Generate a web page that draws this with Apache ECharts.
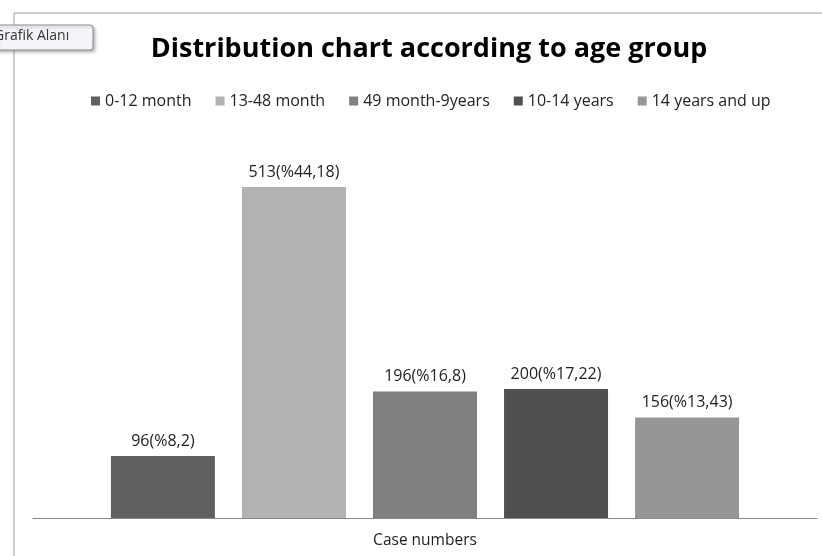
<!DOCTYPE html>
<html>
<head>
<meta charset="utf-8">
<script src="https://cdn.jsdelivr.net/npm/echarts@6/dist/echarts.min.js"></script>
<style>
html,body{margin:0;padding:0;background:#fff;}
#c{width:822px;height:556px;}
</style>
</head>
<body>
<div id="c"></div>
<script>
var categories = ['Case numbers'];
var seriesNames = ['0-12 month', '13-48 month', '49 month-9years', '10-14 years', '14 years and up'];
var seriesValues = [96, 513, 196, 200, 156];
var seriesLabels = ['96(%8,2)', '513(%44,18)', '196(%16,8)', '200(%17,22)', '156(%13,43)'];
var seriesColors = ['#606060', '#b2b2b2', '#808080', '#505050', '#969696'];

var chart = echarts.init(document.getElementById('c'));
var series = seriesNames.map(function (n, i) {
  return {
    name: n,
    type: 'bar',
    data: [seriesValues[i]],
    barWidth: 104,
    barGap: '26%',
    itemStyle: { color: seriesColors[i] },
    label: {
      show: true,
      position: 'top',
      distance: 7,
      formatter: seriesLabels[i],
      color: '#222',
      fontFamily: 'Open Sans',
      fontSize: 16
    }
  };
});
chart.setOption({
  animation: false,
  title: {
    text: 'Distribution chart according to age group',
    left: 424,
    textAlign: 'center',
    top: 31,
    textStyle: { fontFamily: 'Open Sans', fontWeight: 'bold', fontSize: 27, color: '#000' }
  },
  legend: {
    top: 88,
    left: 86,
    itemWidth: 9,
    itemHeight: 9,
    itemGap: 24,
    icon: 'rect',
    textStyle: { fontFamily: 'Open Sans', fontSize: 16, color: '#222' },
    data: seriesNames
  },
  grid: { left: 33, right: 5, top: 131, bottom: 38 },
  xAxis: {
    type: 'category',
    data: categories,
    axisLine: { lineStyle: { color: '#888', width: 1 } },
    axisTick: { show: false },
    axisLabel: { margin: 15, color: '#222', fontFamily: 'Open Sans', fontSize: 15.5 }
  },
  yAxis: {
    type: 'value',
    min: 0,
    max: 600,
    show: false,
    splitLine: { show: false }
  },
  graphic: [
    { type: 'line', shape: { x1: 14, y1: 13, x2: 822, y2: 13 }, style: { stroke: '#999', lineWidth: 1 } },
    { type: 'line', shape: { x1: 14, y1: 13, x2: 14, y2: 556 }, style: { stroke: '#999', lineWidth: 1 } },
    { type: 'rect', shape: { x: -4, y: 25, width: 97, height: 25, r: 3 },
      style: { fill: '#f4f5f8', stroke: '#8a8a8a', lineWidth: 1, shadowBlur: 3, shadowOffsetX: 2, shadowOffsetY: 2, shadowColor: 'rgba(0,0,0,0.25)' } },
    { type: 'text', x: -6, y: 29, style: { text: 'Grafik Alanı', fontFamily: 'Open Sans', fontSize: 14, fill: '#333' } }
  ],
  series: series
});
</script>
</body>
</html>
